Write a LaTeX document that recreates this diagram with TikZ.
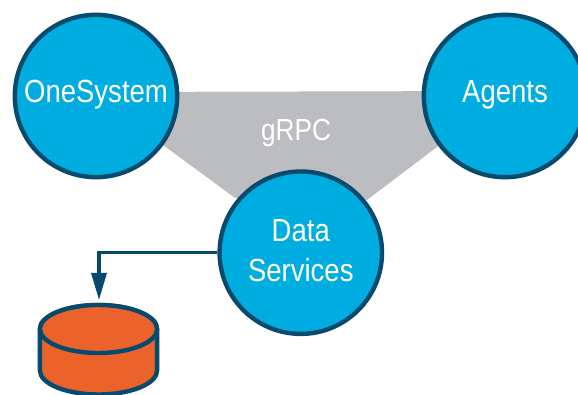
\documentclass[tikz,border=0pt]{standalone}
\usepackage{fontspec}
\setmainfont[FakeStretch=0.86]{Liberation Sans}
\usetikzlibrary{arrows.meta}
\definecolor{bluefill}{HTML}{00ADE0}
\definecolor{navy}{HTML}{064A6E}
\definecolor{band}{HTML}{BCBDC0}
\definecolor{drum}{HTML}{EB632B}
\newcommand{\lowpad}{\rule[-9.6pt]{0pt}{0pt}}
\newcommand{\datapad}{\rule[-4.5pt]{0pt}{0pt}}
\tikzset{
  hub/.style={circle,draw=navy,fill=bluefill,line width=4.4pt,minimum size=162.4pt,inner sep=0pt,text=white,align=center,font=\fontsize{32}{38.5}\selectfont},
  link/.style={draw=navy,line width=3.3pt,-{Triangle[length=27pt,width=15pt]}},
  drumline/.style={draw=navy,line width=4.4pt,fill=drum},
}
\begin{document}
\begin{tikzpicture}[x=1pt,y=-1pt]
\useasboundingbox (0,0) rectangle (578,395);
\clip (0,0) rectangle (578,395);
\fill[band] (96,92) -- (505,91) -- (437,147) -- (367,200) -- (235,198) -- (163,145) -- cycle;
\node[text=white,font=\fontsize{30.5}{36}\selectfont] (grpc) at (296,133) {gRPC};
\node[hub] (one) at (96,96) {OneSystem\lowpad};
\node[hub] (agents) at (505,96) {Agents\lowpad};
\node[hub] (data) at (300.8,252.7) {Data\\[2pt]Services\datapad};
\coordinate (dbtop) at (99,300);
\path[drumline] (39.9,329) -- (39.9,370.5) arc[start angle=180,end angle=0,x radius=58.6,y radius=24] -- (157.1,329) arc[start angle=0,end angle=-180,x radius=58.6,y radius=24] -- cycle;
\path[drumline] (98.5,329) ellipse[x radius=58.6,y radius=24];
\draw[link] (data.west) -| (dbtop);
\end{tikzpicture}
\end{document}
